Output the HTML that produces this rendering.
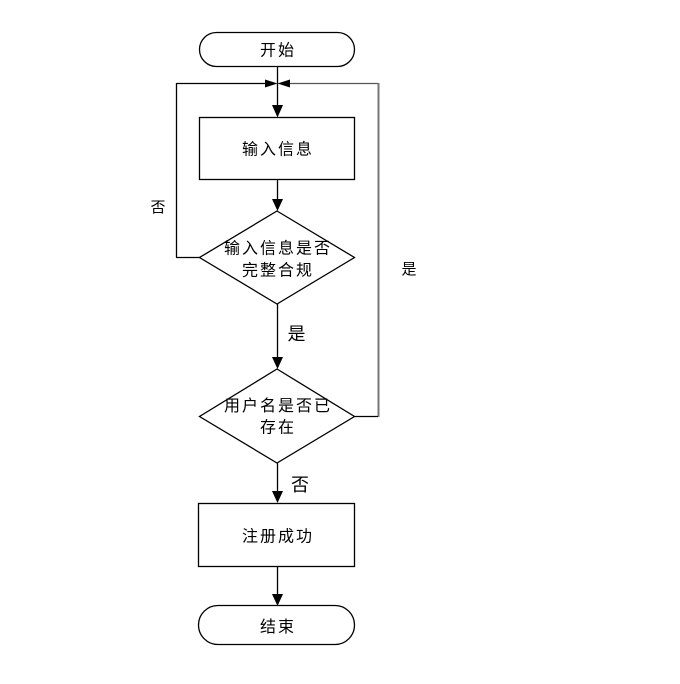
<!DOCTYPE html>
<html><head><meta charset="utf-8"><style>
html,body{margin:0;padding:0;background:#fff;}
svg{display:block;}
text{font-family:"Liberation Sans","Noto Sans CJK SC",sans-serif;fill:#000;}
</style></head><body>
<svg width="680" height="684" viewBox="0 0 680 684" xmlns="http://www.w3.org/2000/svg">
<rect x="0" y="0" width="680" height="684" fill="#fff"/>
<g fill="none" stroke="#000" stroke-width="1.3">
<rect x="199.5" y="32.5" width="155" height="34" rx="17" ry="17"/>
<line x1="277.5" y1="67" x2="277.5" y2="106"/>
<line x1="176.5" y1="83.5" x2="266" y2="83.5"/>
<line x1="289" y1="83.5" x2="378" y2="83.5" stroke="#555"/>
<line x1="176.5" y1="83" x2="176.5" y2="257.5"/>
<line x1="176" y1="257.5" x2="199.5" y2="257.5"/>
<line x1="378.5" y1="83" x2="378.5" y2="417" stroke="#777" stroke-width="2"/>
<line x1="354.5" y1="416.5" x2="378" y2="416.5"/>
<rect x="199.5" y="117.5" width="155" height="62"/>
<line x1="277.5" y1="179.5" x2="277.5" y2="200"/>
<polygon points="277,211 354.5,257.5 277,304 199.5,257.5"/>
<line x1="277.5" y1="304" x2="277.5" y2="358"/>
<polygon points="277,369 354.5,416.5 277,463 199.5,416.5"/>
<line x1="277.5" y1="463" x2="277.5" y2="492"/>
<rect x="198.5" y="503.5" width="156" height="63"/>
<line x1="277.5" y1="566.5" x2="277.5" y2="595"/>
<rect x="198.5" y="605.5" width="156" height="39" rx="19.5" ry="19.5"/>
</g>
<g fill="#000" stroke="none">
<polygon points="272,105 283,105 277.5,117.5"/>
<polygon points="265,79.5 265,87.5 277.5,83.5"/>
<polygon points="290,79.5 290,87.5 277.5,83.5"/>
<polygon points="272,199 283,199 277.5,211"/>
<polygon points="272,357 283,357 277.5,369"/>
<polygon points="272,491 283,491 277.5,503"/>
<polygon points="272,594 283,594 277.5,606"/>
</g>
<g font-size="16" text-anchor="middle" letter-spacing="2">
<text x="278" y="55.5">开始</text>
<text x="278" y="154.5">输入信息</text>
<text x="278" y="253.5">输入信息是否</text>
<text x="278" y="275.5">完整合规</text>
<text x="278" y="411">用户名是否已</text>
<text x="278" y="432.5">存在</text>
<text x="278" y="541.5">注册成功</text>
<text x="278" y="632">结束</text>
</g>
<text x="158" y="212" font-size="15" text-anchor="middle">否</text>
<text x="409" y="274" font-size="15" text-anchor="middle">是</text>
<text x="296.5" y="340" font-size="18" text-anchor="middle">是</text>
<text x="300" y="491" font-size="18" text-anchor="middle">否</text>
</svg>
</body></html>
